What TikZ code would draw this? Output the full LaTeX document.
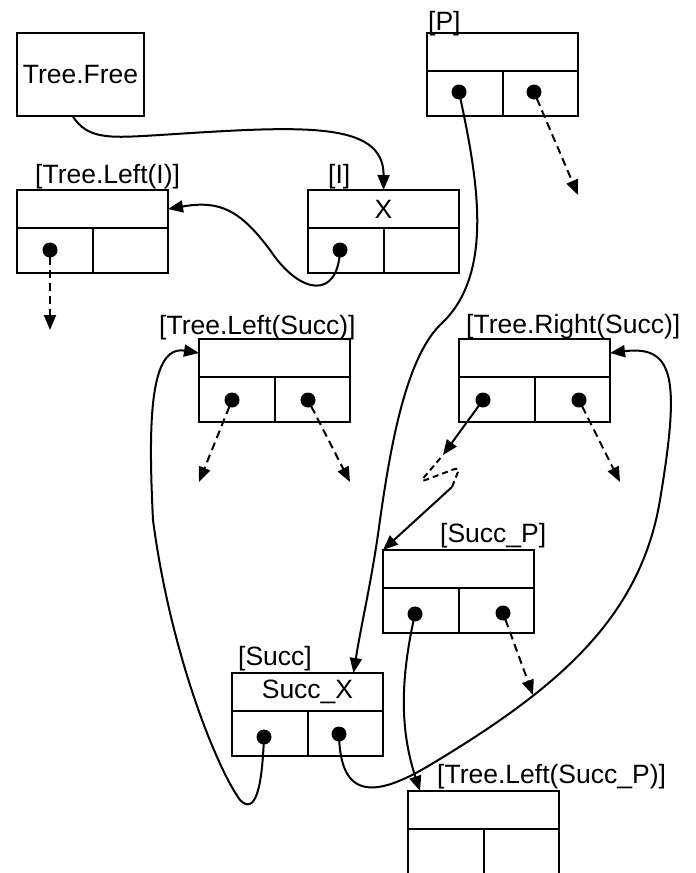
\documentclass[tikz,border=0pt]{standalone}
\usepackage{fontspec}
\setmainfont{Liberation Sans}
\usetikzlibrary{arrows.meta}

% record box: outer frame, value cell on top, two pointer cells below
\newcommand\recbox[3]{%
  \node[rec] (#1) at (#2,#3) {};
  \draw[boxline] ([yshift=-38pt]#1.north west) -- ([yshift=-38pt]#1.north east)
                 ([yshift=-38pt]#1.north) -- (#1.south);
}

\begin{document}
\begin{tikzpicture}[x=1pt,y=-1pt,
  font=\fontsize{26.5}{30}\selectfont,
  rec/.style={draw,line width=2pt,minimum width=151pt,minimum height=83pt,
              inner sep=0pt,outer sep=0pt,anchor=north west},
  boxline/.style={line width=2pt},
  lab/.style={anchor=base west,inner sep=0pt},
  link/.style={line width=2pt,-{Triangle[length=15pt,width=12pt]}},
  nil/.style={link,dash pattern=on 8pt off 5pt,shorten <=7pt},
  ptr/.style={radius=7.5pt}]

\useasboundingbox (0,0) rectangle (696,873);

% ---- free list head
\node[draw,line width=2pt,minimum width=127pt,minimum height=83pt,
      inner sep=0pt,outer sep=0pt,anchor=north west] (TF) at (17,33) {Tree.Free};

% ---- records
\recbox{TLI}{17}{190}
\recbox{I}{308}{190}
\recbox{P}{427}{33}
\recbox{TLS}{199}{339}
\recbox{TRS}{459}{339}
\recbox{SP}{383}{550}
\recbox{S}{232}{673}
\recbox{TLSP}{408}{791}

% ---- value cells
\node (xv) at ([yshift=-19pt]I.north) {X};
\node (sxv) at ([yshift=-19pt]S.north) {Succ\_X};

% ---- labels
\node[lab] (lTLI) at (35,183) {[Tree.Left(I)]};
\node[lab] (lI) at (328,183) {[I]};
\node[lab] (lP) at (428,30) {[P]};
\node[lab] (lTLS) at (159,334) {[Tree.Left(Succ)]};
\node[lab] (lTRS) at (466,333) {[Tree.Right(Succ)]};
\node[lab] (lSP) at (440,542) {[Succ\_P]};
\node[lab] (lS) at (238,665) {[Succ]};
\node[lab] (lTLSP) at (437,783) {[Tree.Left(Succ\_P)]};

% ---- pointer origins
\coordinate (TLIl) at (50,250);
\coordinate (Il) at (340,250);
\coordinate (Pl) at (459,92);
\coordinate (Pr) at (534,92);
\coordinate (TLSl) at (232,400);
\coordinate (TLSr) at (308,400);
\coordinate (TRSl) at (483,400);
\coordinate (TRSr) at (579,400);
\coordinate (SPl) at (415,614);
\coordinate (SPr) at (503,613);
\coordinate (Sl) at (264,737);
\coordinate (Sr) at (339,734);

% ---- loose ends
\coordinate (e1) at (50,330);
\coordinate (e2) at (578,195);
\coordinate (e3) at (199,482);
\coordinate (e4) at (350,482);
\coordinate (e5) at (620,482);
\coordinate (e6) at (533,695);
\coordinate (e7) at (443,455);
\coordinate (e8) at (452,487);

% ---- null / unknown pointers
\draw[nil] (TLIl) -- (e1);
\draw[nil] (Pr) -- (e2);
\draw[nil] (TLSl) -- (e3);
\draw[nil] (TLSr) -- (e4);
\draw[nil] (TRSr) -- (e5);
\draw[nil] (SPr) -- (e6);

% ---- links
\draw[link] ([xshift=-8pt]TF.south) .. controls (88,140) and (110,138) .. (160,135)
      .. controls (300,126) and (384,120) .. (I.north);
\draw[link] (Il) .. controls (338,300) and (300,295) .. (270,250)
      .. controls (240,210) and (220,200) .. ([yshift=-19pt]TLI.north east);
\draw[link] (Pl) .. controls (478,180) and (495,275) .. (440,325)
      .. controls (405,360) and (390,450) .. (380,520)
      .. controls (372,580) and (362,620) .. ([xshift=46pt]S.north);
\draw[link] (TRSl) -- (e7);
\draw[line width=2pt,dash pattern=on 6pt off 4pt,rounded corners=5pt,shorten <=4pt]
      (e7) -- (420,482) -- (460,467) -- (e8);
\draw[link] (e8) -- (SP.north west);
\draw[link] (Sl) .. controls (262,790) and (255,815) .. (240,800)
      .. controls (215,765) and (170,650) .. (153,520)
      .. controls (148,420) and (150,345) .. ([yshift=-14pt]TLS.north west);
\draw[link] (Sr) .. controls (340,800) and (375,798) .. (430,765)
      .. controls (555,690) and (640,620) .. (660,500)
      .. controls (680,380) and (675,345) .. ([yshift=-14pt]TRS.north east);
\draw[link] (SPl) .. controls (400,680) and (400,730) .. ([xshift=12pt]TLSP.north west);

% ---- pointer dots
\foreach \p in {TLIl,Il,Pl,Pr,TLSl,TLSr,TRSl,TRSr,SPl,SPr,Sl,Sr}
  \fill (\p) circle[ptr];

\end{tikzpicture}
\end{document}
